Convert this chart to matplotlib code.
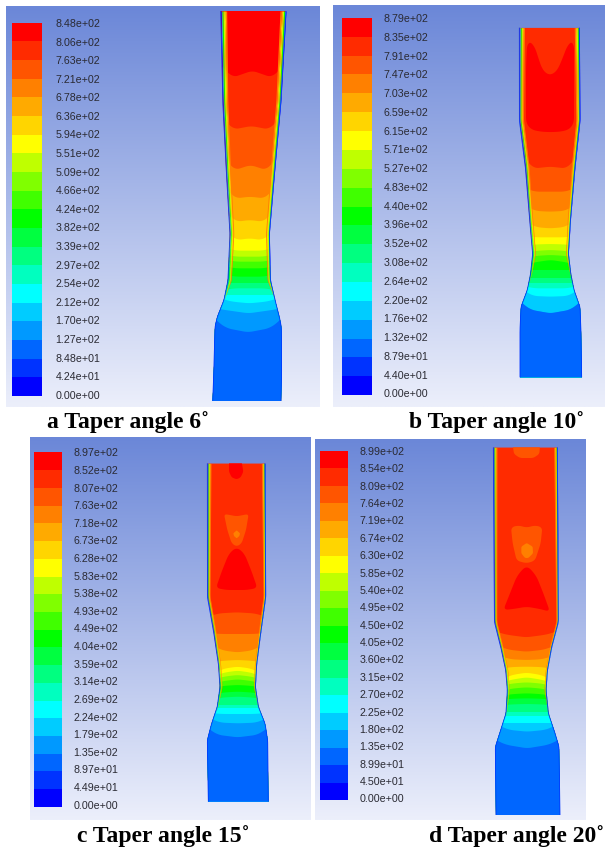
import numpy as np
import matplotlib
matplotlib.use("Agg")
import matplotlib.pyplot as plt
from matplotlib.patches import Polygon

# Fluent-style discrete palette, lowest to highest band
band_colors = [(0,0,255),(0,51,255),(0,102,255),(0,153,255),(0,204,255),(0,255,255),
               (0,255,191),(0,255,128),(0,255,64),(0,255,0),(64,255,0),(128,255,0),
               (191,255,0),(255,255,0),(255,213,0),(255,170,0),(255,128,0),(255,85,0),
               (255,43,0),(255,0,0)]

labels_a = ["8.48e+02","8.06e+02","7.63e+02","7.21e+02","6.78e+02","6.36e+02","5.94e+02",
            "5.51e+02","5.09e+02","4.66e+02","4.24e+02","3.82e+02","3.39e+02","2.97e+02",
            "2.54e+02","2.12e+02","1.70e+02","1.27e+02","8.48e+01","4.24e+01","0.00e+00"]
labels_b = ["8.79e+02","8.35e+02","7.91e+02","7.47e+02","7.03e+02","6.59e+02","6.15e+02",
            "5.71e+02","5.27e+02","4.83e+02","4.40e+02","3.96e+02","3.52e+02","3.08e+02",
            "2.64e+02","2.20e+02","1.76e+02","1.32e+02","8.79e+01","4.40e+01","0.00e+00"]
labels_c = ["8.97e+02","8.52e+02","8.07e+02","7.63e+02","7.18e+02","6.73e+02","6.28e+02",
            "5.83e+02","5.38e+02","4.93e+02","4.49e+02","4.04e+02","3.59e+02","3.14e+02",
            "2.69e+02","2.24e+02","1.79e+02","1.35e+02","8.97e+01","4.49e+01","0.00e+00"]
labels_d = ["8.99e+02","8.54e+02","8.09e+02","7.64e+02","7.19e+02","6.74e+02","6.30e+02",
            "5.85e+02","5.40e+02","4.95e+02","4.50e+02","4.05e+02","3.60e+02","3.15e+02",
            "2.70e+02","2.25e+02","1.80e+02","1.35e+02","8.99e+01","4.50e+01","0.00e+00"]

captions = ["a Taper angle 6˚", "b Taper angle 10˚", "c Taper angle 15˚", "d Taper angle 20˚"]

# Nozzle outlines: height, left wall, right wall
a_y  = [33, 300, 500, 700, 840, 900, 950, 980, 1100, 1203]
a_xl = [662, 668, 678, 690, 684, 672, 652, 645, 642, 638]
a_xr = [858, 843, 825, 808, 811, 825, 838, 844, 845, 843]
b_y  = [83, 360, 500, 650, 760, 820, 870, 920, 990, 1132]
b_xl = [598, 598, 616, 628, 638, 632, 622, 603, 600, 600]
b_xr = [778, 780, 765, 752, 745, 752, 762, 780, 783, 785]
c_y  = [100, 500, 600, 700, 770, 830, 880, 930, 1115]
c_xl = [622, 622, 640, 655, 660, 652, 635, 622, 625]
c_xr = [795, 797, 783, 770, 766, 775, 795, 803, 805]
d_y  = [52, 575, 650, 720, 780, 850, 900, 950, 1155]
d_xl = [550, 553, 572, 587, 592, 588, 572, 556, 558]
d_xr = [742, 745, 725, 712, 708, 715, 732, 747, 750]

# Band boundaries top to bottom: band below the boundary, and its height at centre, mid, wall
a_band = [18,17,16,15,14,13,12,11,10,9,8,7,6,5,4,3,2]
a_cen  = [212,378,495,590,660,715,752,770,785,805,830,850,865,885,910,940,997]
a_mid  = [232,388,510,595,665,720,752,770,785,805,830,850,865,885,905,932,985]
a_edg  = [190,350,470,565,640,700,745,765,780,800,825,850,870,885,895,925,950]
b_band = [17,16,15,14,13,12,11,10,9,8,7,6,5,4,3,2]
b_cen  = [500,575,635,685,712,732,750,765,780,810,835,848,865,890,940,940]
b_mid  = [505,575,633,682,712,733,752,767,785,810,835,848,865,888,930,930]
b_edg  = [470,565,620,670,710,735,755,770,790,810,835,848,860,870,900,900]
c_band = [17,16,15,14,13,12,11,10,9,8,7,6,5,4,3,2]
c_cen  = [547,612,667,690,710,722,735,748,765,785,800,825,835,852,880,922]
c_mid  = [550,612,662,692,715,727,739,752,767,787,802,825,835,852,878,915]
c_edg  = [560,610,650,695,725,735,745,757,770,790,805,825,835,850,865,890]
d_band = [17,16,15,14,13,12,11,10,9,8,7,6,5,4,3,2]
d_cen  = [622,665,690,710,728,742,757,772,790,805,822,845,858,880,905,955]
d_mid  = [615,660,688,711,734,748,760,775,792,806,823,845,858,880,900,945]
d_edg  = [605,650,680,715,745,755,765,780,795,808,825,845,858,880,885,925]

# Closed contour islands: band, x points, y points
b_blobs = [(19, [622,640,660,672,690,705,722,748,762,762,745,690,640,618,618],
                [116,126,190,222,232,225,190,121,116,385,392,398,392,385,200])]
c_blobs = [(19, [687,695,710,725,730,722,710,695,687], [96,96,96,96,125,142,148,142,125]),
           (17, [672,690,710,730,746,738,725,710,695,682], [252,255,259,255,252,300,340,350,340,300]),
           (16, [700,710,720,718,710,702], [310,301,310,318,325,318]),
           (19, [648,665,685,700,710,720,735,755,772,740,710,680], [474,425,375,358,353,358,375,425,474,480,480,480])]
d_blobs = [(17, [608,690,688,670,630,612], [44,44,72,84,84,72]),
           (17, [603,625,650,675,697,692,675,650,620,608], [292,286,293,286,292,340,392,400,392,340]),
           (16, [634,650,668,669,655,645,634], [350,339,350,370,384,384,370]),
           (19, [580,600,620,640,650,660,680,700,720,690,650,610], [540,490,440,415,408,415,440,490,545,537,530,537])]

# Thin wall layers, wall inwards: band and layer width
wall_band  = [0, 5, 9, 12, 14, 16]
wall_width = [2, 2, 3, 4, 3, 4]

panels = [
    dict(off=(0,0),     rect=(18,960,18,1220),  y=a_y, xl=a_xl, xr=a_xr, band=a_band, cen=a_cen, mid=a_mid, edg=a_edg,
         top=19, blobs=[], labels=labels_a, bar=(37,127,68,1187), lx=167, ly=(72,1187), wall=(33,840,900), ws=1.0),
    dict(off=(320,0),   rect=(39,855,15,1220),  y=b_y, xl=b_xl, xr=b_xr, band=b_band, cen=b_cen, mid=b_mid, edg=b_edg,
         top=18, blobs=b_blobs, labels=labels_b, bar=(65,155,53,1185), lx=190, ly=(57,1183), wall=(83,760,850), ws=0.85),
    dict(off=(0,430),   rect=(90,930,22,1170),  y=c_y, xl=c_xl, xr=c_xr, band=c_band, cen=c_cen, mid=c_mid, edg=c_edg,
         top=18, blobs=c_blobs, labels=labels_c, bar=(102,187,67,1130), lx=220, ly=(70,1127), wall=(100,770,850), ws=0.6),
    dict(off=(310,430), rect=(15,825,27,1170),  y=d_y, xl=d_xl, xr=d_xr, band=d_band, cen=d_cen, mid=d_mid, edg=d_edg,
         top=18, blobs=d_blobs, labels=labels_d, bar=(31,114,62,1110), lx=149, ly=(66,1108), wall=(52,780,860), ws=0.6),
]

W, H = 605, 850
plt.rcParams['font.family'] = ['Liberation Sans', 'DejaVu Sans']
fig = plt.figure(figsize=(W/100, H/100), dpi=100, facecolor='white')
col = lambda i: tuple(v/255 for v in band_colors[i])
top_rgb, bot_rgb = np.array([107,135,216])/255, np.array([236,239,251])/255
grad = np.linspace(0, 1, 256)[:, None, None]
bg = top_rgb*(1-grad) + bot_rgb*grad


def smooth_closed(bx, by, n=160, win=11):
    bx = np.r_[bx, bx[0]]; by = np.r_[by, by[0]]
    seg = np.r_[0, np.cumsum(np.hypot(np.diff(bx), np.diff(by)))]
    t = np.linspace(0, seg[-1], n, endpoint=False)
    px, py = np.interp(t, seg, bx), np.interp(t, seg, by)
    k = np.ones(win)/win
    wrap = lambda a: np.convolve(np.r_[a[-win:], a, a[:win]], k, mode='same')[win:-win]
    return wrap(px), wrap(py)


for p in panels:
    ox, oy = p['off']
    x0, x1, y0, y1 = p['rect']
    left, right = ox + x0/3, ox + x1/3
    top, bottom = oy + y0/3, oy + y1/3
    ax = fig.add_axes([left/W, 1-bottom/H, (right-left)/W, (bottom-top)/H])
    ax.imshow(bg, extent=(x0, x1, y1, y0), aspect='auto', zorder=0, interpolation='bilinear')
    ax.set_xlim(x0, x1); ax.set_ylim(y1, y0); ax.axis('off')

    # colour bar
    bx0, bx1, by0, by1 = p['bar']
    n = len(band_colors)
    h = (by1-by0)/n
    for i in range(n):
        ax.bar((bx0+bx1)/2, h+0.5, width=bx1-bx0, bottom=by1-(i+1)*h, color=col(i), zorder=2, linewidth=0)
    for lab, yy in zip(p['labels'], np.linspace(p['ly'][0], p['ly'][1], len(p['labels']))):
        ax.text(p['lx'], yy, lab, fontsize=7.7, color='#2a2a33', va='center', ha='left', zorder=3)

    # nozzle
    ys = np.linspace(p['y'][0], p['y'][-1], 500)
    xl = np.interp(ys, p['y'], p['xl'])
    xr = np.interp(ys, p['y'], p['xr'])
    kern = np.ones(9)/9
    pad = lambda a: np.convolve(np.r_[[a[0]]*4, a, [a[-1]]*4], kern, mode='valid')
    xl, xr = pad(xl), pad(xr)
    outline = np.c_[np.r_[xl, xr[::-1]], np.r_[ys, ys[::-1]]]
    clip = Polygon(outline, closed=True, transform=ax.transData, fc='none', ec='none')
    ax.add_patch(clip)
    def clipped(artist):
        artist.set_clip_path(clip)
    clipped(ax.fill(outline[:,0], outline[:,1], color=col(p['top']), lw=0, zorder=4)[0])
    for b, c, m, e in zip(p['band'], p['cen'], p['mid'], p['edg']):
        hl = np.interp(c, ys, xl); hr = np.interp(c, ys, xr)
        cx = (hl+hr)/2; hw = (hr-hl)/2*1.05
        xs = np.linspace(min(p['xl'])-10, max(p['xr'])+10, 200)
        cxs = np.clip(np.abs(xs-cx)/hw, 0, 1)
        curve = np.interp(cxs, [0, .3, .6, .85, 1], [c, (c+m)/2, m, (m+e)/2, e])
        curve = np.convolve(np.r_[[curve[0]]*12, curve, [curve[-1]]*12], np.ones(25)/25, mode='valid')
        poly = np.c_[np.r_[xs, xs[::-1]], np.r_[curve, np.full_like(xs, p['y'][-1]+5)]]
        clipped(ax.fill(poly[:,0], poly[:,1], color=col(b), lw=0, zorder=5)[0])
    for b, bx, by in p['blobs']:
        sx, sy = smooth_closed(np.array(bx, float), np.array(by, float))
        clipped(ax.fill(sx, sy, color=col(b), lw=0, zorder=6)[0])

    # wall layers
    y_a, y_b, y_c = p['wall']
    factor = np.interp(ys, [y_a, y_b, y_c], [1, 0.55, 0])*p['ws']
    off = 0.0
    for b, w in zip(wall_band, wall_width):
        w0 = off*factor; w1 = (off+w)*factor
        for side, sign in ((xl, 1), (xr, -1)):
            ax.fill_betweenx(ys, side+sign*w0, side+sign*w1, color=col(b), lw=0, zorder=7)
        off += w
    for side in (xl, xr):
        ax.plot(side, ys, color=col(1), lw=0.6, zorder=8, solid_capstyle='butt')

caption_pos = [(47, 422), (409, 422), (77, 836), (429, 836)]
for cap, (cxp, cyp) in zip(captions, caption_pos):
    fig.text(cxp/W, 1-cyp/H, cap, fontsize=17, fontweight='bold', family=['Liberation Serif', 'DejaVu Serif'],
             va='center', ha='left', color='black')

fig.savefig('out.png', dpi=100, facecolor='white')
